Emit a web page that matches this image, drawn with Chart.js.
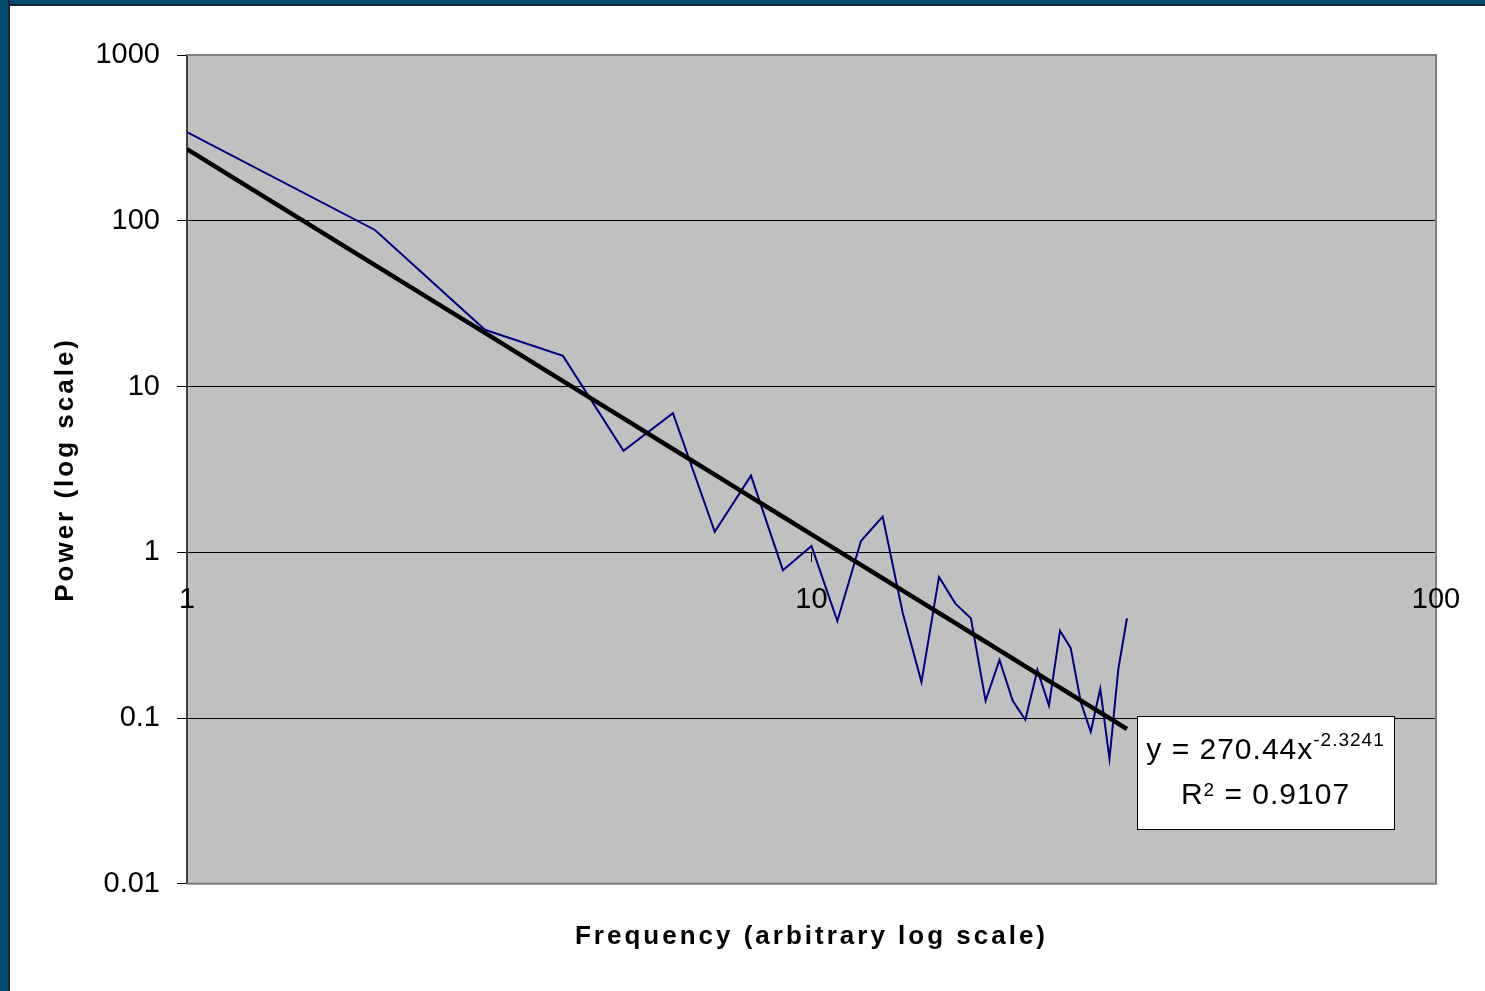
<!DOCTYPE html>
<html>
<head>
<meta charset="utf-8">
<script src="https://cdn.jsdelivr.net/npm/chart.js@4/dist/chart.umd.min.js"></script>
<style>
  html, body { margin: 0; padding: 0; background: #ffffff; overflow: hidden; }
  #wrap { position: relative; width: 1485px; height: 991px; }
  #c { position: absolute; left: 0; top: 0; }
  .frameL { position: absolute; left: 0; top: 0; width: 8px; height: 991px; background: #044b70; border-right: 2px solid #1a2833; z-index: 2; }
  .frameT { position: absolute; left: 0; top: 0; width: 1485px; height: 4px; background: #044b70; border-bottom: 2px solid #1a2833; z-index: 2; }
</style>
</head>
<body>
<div id="wrap">
  <canvas id="c" width="1485" height="991"></canvas>
  <div class="frameT"></div>
  <div class="frameL"></div>
</div>
<script>
// ---- data ----
const freq = [1, 2, 3, 4, 5, 6, 7, 8, 9, 10, 11, 12, 13, 14, 15, 16,
              17, 18, 19, 20, 21, 22, 23, 24, 25, 26, 27, 28, 29, 30, 31, 32];
const power = [343, 88, 22, 15.3, 4.1, 6.9, 1.33, 2.9, 0.78, 1.09, 0.385, 1.17,
               1.64, 0.43, 0.165, 0.71, 0.49, 0.40, 0.127, 0.224, 0.127, 0.0975,
               0.195, 0.119, 0.336, 0.265, 0.124, 0.0826, 0.15, 0.0568, 0.198, 0.40];
const trendPower = [270.4, 54.0, 21.05, 10.78, 6.42, 4.20, 2.94, 2.154, 1.638, 1.282,
                    1.027, 0.839, 0.697, 0.587, 0.4998, 0.430, 0.3736, 0.327, 0.2885,
                    0.256, 0.2286, 0.2052, 0.185, 0.1677, 0.1525, 0.1392, 0.1275,
                    0.1172, 0.108, 0.0998, 0.0925, 0.0859];
const xTickValues = [1, 10, 100];
const yTickValues = [0.01, 0.1, 1, 10, 100, 1000];
const xTitle = 'Frequency (arbitrary log scale)';
const yTitle = 'Power (log scale)';
const eqMain = 'y = 270.44x';
const eqExp = '-2.3241';
const r2Main = 'R';
const r2Exp = '2';
const r2Val = ' = 0.9107';

const FONT = "'Liberation Sans', Arial, sans-serif";

const toPoints = (xs, ys) => xs.map((x, i) => ({ x: x, y: ys[i] }));

const plotDecor = {
  id: 'plotDecor',
  beforeDraw(chart) {
    const { ctx, chartArea: a } = chart;
    ctx.save();
    ctx.fillStyle = '#c0c0c0';
    ctx.fillRect(a.left, a.top, a.right - a.left, a.bottom - a.top);
    ctx.restore();
    ctx.letterSpacing = '3px';
  },
  beforeDatasetsDraw(chart) {
    const { ctx, chartArea: a } = chart;
    ctx.letterSpacing = '0px';
    ctx.save();
    ctx.strokeStyle = '#808080';
    ctx.lineWidth = 2;
    ctx.beginPath();
    ctx.moveTo(a.left, a.top);
    ctx.lineTo(a.right, a.top);
    ctx.lineTo(a.right, a.bottom);
    ctx.lineTo(a.left, a.bottom);
    ctx.stroke();
    ctx.restore();
  },
  afterDatasetsDraw(chart) {
    const { ctx } = chart;
    const xs = chart.scales.x, ys = chart.scales.y;
    const left = Math.round(xs.getPixelForValue(freq[freq.length - 1]) + 10);
    const top = Math.round(ys.getPixelForValue(0.1) - 2);
    const w = 257, h = 113;
    ctx.save();
    ctx.fillStyle = '#ffffff';
    ctx.fillRect(left, top, w, h);
    ctx.strokeStyle = '#000000';
    ctx.lineWidth = 1;
    ctx.strokeRect(left + 0.5, top + 0.5, w, h);
    ctx.fillStyle = '#000000';
    ctx.textBaseline = 'alphabetic';
    ctx.textAlign = 'left';
    ctx.letterSpacing = '1px';
    const big = '30px ' + FONT, small = '19px ' + FONT;
    const cx = left + w / 2;
    // line 1
    ctx.font = big; const w1 = ctx.measureText(eqMain).width;
    ctx.font = small; const w2 = ctx.measureText(eqExp).width;
    let sx = cx - (w1 + w2) / 2;
    const b1 = top + 43;
    ctx.font = big; ctx.fillText(eqMain, sx, b1);
    ctx.font = small; ctx.fillText(eqExp, sx + w1, b1 - 13);
    // line 2
    ctx.font = big; const wr = ctx.measureText(r2Main).width;
    ctx.font = small; const we = ctx.measureText(r2Exp).width;
    ctx.font = big; const wv = ctx.measureText(r2Val).width;
    sx = cx - (wr + we + wv) / 2;
    const b2 = top + 88;
    ctx.font = big; ctx.fillText(r2Main, sx, b2);
    ctx.font = small; ctx.fillText(r2Exp, sx + wr, b2 - 8);
    ctx.font = big; ctx.fillText(r2Val, sx + wr + we, b2);
    ctx.restore();
  }
};

new Chart(document.getElementById('c'), {
  type: 'scatter',
  data: {
    datasets: [
      {
        label: 'Power',
        data: toPoints(freq, power),
        showLine: true,
        borderColor: '#000080',
        borderWidth: 2,
        pointRadius: 0,
        tension: 0,
        order: 2
      },
      {
        label: 'Power trend',
        data: toPoints(freq, trendPower),
        showLine: true,
        borderColor: '#000000',
        borderWidth: 4.5,
        pointRadius: 0,
        tension: 0,
        order: 1
      }
    ]
  },
  options: {
    responsive: false,
    animation: false,
    events: [],
    layout: { padding: { top: 55, right: 49, bottom: 0, left: 0 } },
    plugins: {
      legend: { display: false },
      tooltip: { enabled: false },
      title: {
        display: true,
        position: 'bottom',
        fullSize: false,
        text: xTitle,
        color: '#000000',
        font: { family: FONT, size: 26, weight: 'bold', lineHeight: 1.2 },
        padding: { top: 37, bottom: 39 }
      }
    },
    scales: {
      x: {
        type: 'logarithmic',
        min: 1,
        max: 100,
        position: { y: 1 },
        afterBuildTicks: (s) => { s.ticks = xTickValues.map(v => ({ value: v })); },
        grid: { drawOnChartArea: false, drawTicks: true, tickLength: 9, color: '#000000', lineWidth: 1 },
        border: { display: true, color: '#000000', width: 1 },
        ticks: {
          z: 1,
          autoSkip: false,
          maxRotation: 0,
          padding: 21,
          color: '#000000',
          font: { family: FONT, size: 29 },
          callback: (v) => String(v)
        },
        title: { display: false }
      },
      y: {
        type: 'logarithmic',
        min: 0.01,
        max: 1000,
        position: 'left',
        afterBuildTicks: (s) => { s.ticks = yTickValues.map(v => ({ value: v })); },
        afterFit: (s) => { s.width = 187; },
        grid: { color: '#000000', lineWidth: 1, drawTicks: true, tickLength: 10 },
        border: { display: true, color: '#404040', width: 2 },
        ticks: {
          z: 1,
          autoSkip: false,
          padding: 17,
          color: '#000000',
          font: { family: FONT, size: 29 },
          callback: (v) => String(v)
        },
        title: {
          display: true,
          text: yTitle,
          color: '#000000',
          font: { family: FONT, size: 26, weight: 'bold', lineHeight: 1.2 },
          padding: { top: 50, bottom: 0 }
        }
      }
    }
  },
  plugins: [plotDecor]
});
</script>
</body>
</html>
